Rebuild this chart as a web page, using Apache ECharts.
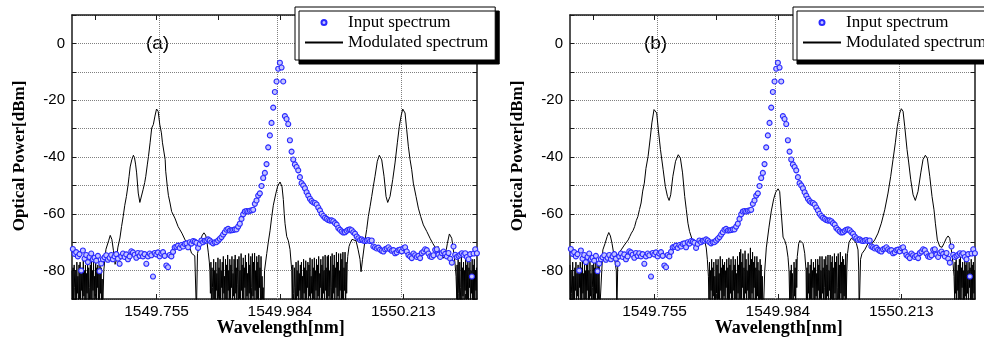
<!DOCTYPE html>
<html>
<head>
<meta charset="utf-8">
<script src="https://cdn.jsdelivr.net/npm/echarts@6.0.0/dist/echarts.min.js"></script>
<style>
html, body { margin: 0; padding: 0; background: #fff; }
#chart { width: 984px; height: 348px; }
</style>
</head>
<body>
<div id="chart"></div>
<script>
// wavelength [nm], power [dBm]
const inputSpectrum = [
  [1549.5996,-72.4],[1549.6027,-74.1],[1549.6058,-73.5],[1549.6089,-75.0],[1549.6120,-74.2],[1549.6151,-80.0],[1549.6182,-72.9],[1549.6213,-75.8],[1549.6244,-74.5],[1549.6275,-77.0],
  [1549.6306,-75.2],[1549.6337,-74.0],[1549.6368,-76.0],[1549.6399,-75.5],[1549.6430,-76.5],[1549.6461,-74.8],[1549.6492,-80.2],[1549.6523,-77.5],[1549.6554,-76.0],[1549.6585,-75.3],
  [1549.6616,-74.6],[1549.6647,-76.2],[1549.6678,-75.5],[1549.6709,-74.5],[1549.6740,-76.0],[1549.6771,-75.0],[1549.6802,-74.2],[1549.6833,-75.8],[1549.6864,-77.6],[1549.6895,-75.0],
  [1549.6926,-74.0],[1549.6957,-75.2],[1549.6988,-74.3],[1549.7019,-76.0],[1549.7050,-75.0],[1549.7081,-73.2],[1549.7112,-73.6],[1549.7143,-74.4],[1549.7174,-75.5],[1549.7205,-73.8],
  [1549.7236,-74.8],[1549.7267,-73.9],[1549.7298,-75.0],[1549.7329,-74.2],[1549.7360,-77.6],[1549.7391,-75.0],[1549.7422,-74.0],[1549.7453,-74.6],[1549.7484,-82.1],[1549.7515,-73.8],
  [1549.7546,-74.3],[1549.7577,-73.6],[1549.7608,-75.0],[1549.7639,-74.0],[1549.7670,-73.5],[1549.7701,-74.8],[1549.7732,-78.2],[1549.7763,-78.8],[1549.7794,-74.5],[1549.7825,-75.0],
  [1549.7856,-73.4],[1549.7887,-71.8],[1549.7918,-71.6],[1549.7949,-71.2],[1549.7980,-72.0],[1549.8011,-71.0],[1549.8042,-71.5],[1549.8073,-70.6],[1549.8104,-70.4],[1549.8135,-71.8],
  [1549.8166,-70.0],[1549.8197,-70.5],[1549.8228,-69.6],[1549.8259,-69.8],[1549.8290,-70.2],[1549.8321,-72.0],[1549.8352,-70.6],[1549.8383,-69.4],[1549.8414,-70.0],[1549.8445,-69.5],
  [1549.8476,-69.4],[1549.8507,-69.0],[1549.8538,-69.4],[1549.8569,-70.0],[1549.8600,-70.4],[1549.8631,-70.0],[1549.8662,-70.0],[1549.8693,-69.4],[1549.8724,-68.8],[1549.8755,-68.2],
  [1549.8786,-67.3],[1549.8817,-66.5],[1549.8848,-65.6],[1549.8879,-65.3],[1549.8910,-65.9],[1549.8941,-65.8],[1549.8972,-65.7],[1549.9003,-65.5],[1549.9034,-65.5],[1549.9065,-64.5],
  [1549.9096,-63.5],[1549.9127,-61.8],[1549.9158,-60.2],[1549.9189,-59.2],[1549.9220,-59.0],[1549.9251,-59.2],[1549.9282,-58.9],[1549.9313,-58.8],[1549.9344,-58.6],[1549.9375,-56.5],
  [1549.9406,-55.3],[1549.9437,-53.6],[1549.9468,-52.8],[1549.9499,-50.2],[1549.9530,-47.4],[1549.9561,-45.6],[1549.9592,-42.5],[1549.9623,-36.6],[1549.9654,-32.4],[1549.9685,-28.0],
  [1549.9716,-22.6],[1549.9747,-17.1],[1549.9778,-13.4],[1549.9809,-8.9],[1549.9840,-6.8],
  [1549.9871,-8.5],[1549.9902,-13.4],[1549.9933,-25.6],[1549.9964,-26.6],[1549.9995,-28.4],[1550.0026,-34.1],[1550.0057,-38.1],[1550.0088,-40.9],[1550.0119,-42.6],[1550.0150,-43.5],
  [1550.0181,-44.7],[1550.0212,-47.1],[1550.0243,-49.2],[1550.0274,-50.0],[1550.0305,-51.0],[1550.0336,-52.4],[1550.0367,-53.6],[1550.0398,-54.7],[1550.0429,-55.5],[1550.0460,-56.0],
  [1550.0491,-56.2],[1550.0522,-56.7],[1550.0553,-57.8],[1550.0584,-58.8],[1550.0615,-60.0],[1550.0646,-60.8],[1550.0677,-61.4],[1550.0708,-61.8],[1550.0739,-62.2],[1550.0770,-62.4],
  [1550.0801,-62.3],[1550.0832,-62.6],[1550.0863,-63.3],[1550.0894,-63.8],[1550.0925,-65.0],[1550.0956,-65.6],[1550.0987,-66.2],[1550.1018,-66.6],[1550.1049,-66.5],[1550.1080,-66.0],
  [1550.1111,-65.6],[1550.1142,-65.5],[1550.1173,-65.8],[1550.1204,-66.5],[1550.1235,-67.0],[1550.1266,-68.0],[1550.1297,-68.6],[1550.1328,-69.2],[1550.1359,-69.0],[1550.1390,-69.4],
  [1550.1421,-69.6],[1550.1452,-69.4],[1550.1483,-69.2],[1550.1514,-69.6],[1550.1545,-69.4],[1550.1576,-71.5],[1550.1607,-71.8],[1550.1638,-72.2],[1550.1669,-71.9],[1550.1700,-72.6],
  [1550.1731,-73.0],[1550.1762,-73.3],[1550.1793,-72.5],[1550.1824,-72.2],[1550.1855,-71.8],[1550.1886,-72.5],[1550.1917,-73.0],[1550.1948,-72.8],[1550.1979,-73.9],[1550.2010,-73.6],
  [1550.2041,-72.8],[1550.2072,-72.6],[1550.2103,-73.2],[1550.2134,-72.1],[1550.2165,-71.8],[1550.2196,-73.3],[1550.2227,-74.5],[1550.2258,-75.0],[1550.2289,-75.6],[1550.2320,-74.0],
  [1550.2351,-74.6],[1550.2382,-75.2],[1550.2413,-74.8],[1550.2444,-75.6],[1550.2475,-73.8],[1550.2506,-73.3],[1550.2537,-72.5],[1550.2568,-72.8],[1550.2599,-74.0],[1550.2630,-75.0],
  [1550.2661,-75.2],[1550.2692,-74.6],[1550.2723,-72.7],[1550.2754,-72.5],[1550.2785,-74.4],[1550.2816,-75.2],[1550.2847,-73.8],[1550.2878,-73.3],[1550.2909,-74.1],[1550.2940,-75.0],
  [1550.2971,-73.8],[1550.3002,-75.8],[1550.3033,-77.2],[1550.3064,-71.5],[1550.3095,-74.4],[1550.3126,-75.2],[1550.3157,-74.8],[1550.3188,-74.4],[1550.3219,-73.9],[1550.3250,-74.4],
  [1550.3281,-73.9],[1550.3312,-75.2],[1550.3343,-76.0],[1550.3374,-74.2],[1550.3405,-82.1],[1550.3436,-74.0],[1550.3467,-72.5],[1550.3498,-73.9]
]

const modulatedA = [
  [1549.598,-80],[1549.599,-91],[1549.600,-79],[1549.601,-95],[1549.602,-78],[1549.603,-86],[1549.604,-92],[1549.605,-80],[1549.606,-94],[1549.607,-77],
  [1549.608,-88],[1549.609,-82],[1549.610,-95],[1549.611,-78],[1549.612,-90],[1549.613,-77],[1549.614,-93],[1549.615,-81],[1549.616,-87],[1549.617,-79],
  [1549.618,-95],[1549.619,-76],[1549.620,-89],[1549.621,-80],[1549.622,-92],[1549.623,-78],[1549.624,-95],[1549.625,-81],[1549.626,-88],[1549.627,-77],
  [1549.628,-94],[1549.629,-79],[1549.630,-86],[1549.631,-93],[1549.632,-78],[1549.633,-90],[1549.634,-76],[1549.635,-95],[1549.636,-80],[1549.637,-87],
  [1549.638,-77],[1549.639,-94],[1549.640,-82],[1549.641,-89],[1549.642,-76],[1549.643,-95],[1549.644,-79],[1549.645,-86],[1549.646,-78],[1549.647,-93],
  [1549.648,-80],[1549.649,-95],[1549.650,-77],[1549.651,-88],[1549.652,-79],[1549.653,-94],[1549.654,-83],[1549.655,-95],[1549.656,-95],
  [1549.657,-80],[1549.661,-72.5],[1549.666,-69.5],[1549.669,-67.6],[1549.672,-69],[1549.675,-73],[1549.678,-77.8],[1549.681,-76],[1549.683,-72],[1549.687,-68.5],
  [1549.690,-64.5],[1549.693,-61],[1549.696,-57],[1549.699,-53.9],[1549.702,-50],[1549.704,-46.8],[1549.706,-43.5],[1549.709,-41],[1549.712,-39.4],[1549.714,-40.2],
  [1549.716,-42.5],[1549.718,-45.6],[1549.721,-52.7],[1549.724,-56],[1549.727,-55.5],[1549.730,-51.5],[1549.733,-49],[1549.735,-46.8],[1549.738,-42.5],[1549.740,-39.8],
  [1549.743,-35],[1549.746,-29.8],[1549.749,-28.6],[1549.752,-25.6],[1549.755,-23.1],[1549.758,-23.9],[1549.761,-28.6],[1549.764,-31.5],[1549.766,-35],[1549.771,-40.9],
  [1549.772,-45],[1549.775,-50.4],[1549.777,-53.5],[1549.780,-56.2],[1549.783,-59.2],[1549.789,-61.5],[1549.795,-64.5],[1549.802,-66.8],[1549.808,-69.2],[1549.814,-70.4],
  [1549.817,-72.1],[1549.820,-73.9],[1549.823,-73.6],[1549.826,-74.8],[1549.829,-95],[1549.830,-95],[1549.831,-74],[1549.834,-71.5],[1549.837,-69],[1549.840,-67.5],
  [1549.843,-66.7],[1549.846,-67.5],[1549.848,-69],[1549.851,-73.5],[1549.853,-77],[1549.854,-80],
  [1549.855,-88],[1549.856,-77],[1549.857,-93],[1549.858,-79],[1549.859,-86],[1549.860,-95],[1549.861,-76],[1549.862,-90],[1549.863,-80],[1549.864,-94],
  [1549.865,-77],[1549.866,-87],[1549.867,-81],[1549.868,-95],[1549.869,-75.5],[1549.870,-89],[1549.871,-79],[1549.872,-92],[1549.873,-76],[1549.874,-95],
  [1549.875,-80],[1549.876,-86],[1549.877,-77],[1549.878,-93],[1549.879,-75],[1549.880,-88],[1549.881,-82],[1549.882,-95],[1549.883,-76],[1549.884,-90],
  [1549.885,-78],[1549.886,-94],[1549.887,-74.5],[1549.888,-87],[1549.889,-80],[1549.890,-95],[1549.891,-76],[1549.892,-91],[1549.893,-78],[1549.894,-86],
  [1549.895,-75],[1549.896,-94],[1549.897,-81],[1549.898,-89],[1549.899,-76],[1549.900,-95],[1549.901,-74.5],[1549.902,-88],[1549.903,-79],[1549.904,-93],
  [1549.905,-76],[1549.906,-85],[1549.907,-95],[1549.908,-75],[1549.909,-90],[1549.910,-80],[1549.911,-94],[1549.912,-74],[1549.913,-87],[1549.914,-78],
  [1549.915,-95],[1549.916,-75.5],[1549.917,-91],[1549.918,-79],[1549.919,-86],[1549.920,-74.5],[1549.921,-95],[1549.922,-77],[1549.923,-89],[1549.924,-81],
  [1549.925,-94],[1549.926,-74],[1549.927,-88],[1549.928,-78],[1549.929,-95],[1549.930,-75],[1549.931,-86],[1549.932,-92],[1549.933,-74],[1549.934,-89],
  [1549.935,-77],[1549.936,-95],[1549.937,-73.8],[1549.938,-87],[1549.939,-80],[1549.940,-94],[1549.941,-75],[1549.942,-90],[1549.943,-77],[1549.944,-95],
  [1549.945,-74.5],[1549.946,-86],[1549.947,-79],[1549.948,-93],[1549.949,-75],[1549.950,-95],[1549.951,-82],[1549.952,-90],[1549.953,-86],[1549.954,-95],
  [1549.9555,-80],[1549.9596,-74],[1549.9625,-70],[1549.9657,-66],[1549.9689,-61],[1549.9718,-57],[1549.9763,-53],[1549.9800,-50.2],[1549.9843,-48.8],[1549.9880,-50.5],
  [1549.9904,-55],[1549.9921,-60],[1549.9936,-63.5],[1549.9967,-68],[1549.9997,-69.5],[1550.0028,-72.5],[1550.0052,-78],
  [1550.006,-80],[1550.007,-93],[1550.008,-78],[1550.009,-88],[1550.010,-95],[1550.011,-79],[1550.012,-86],[1550.013,-92],[1550.014,-77],[1550.015,-95],
  [1550.016,-80],[1550.017,-89],[1550.018,-76.5],[1550.019,-94],[1550.020,-81],[1550.021,-87],[1550.022,-78],[1550.023,-95],[1550.024,-77],[1550.025,-90],
  [1550.026,-82],[1550.027,-94],[1550.028,-76],[1550.029,-88],[1550.030,-79],[1550.031,-95],[1550.032,-76.5],[1550.033,-91],[1550.034,-80],[1550.035,-86],
  [1550.036,-77],[1550.037,-95],[1550.038,-78],[1550.039,-89],[1550.040,-75.5],[1550.041,-94],[1550.042,-82],[1550.043,-88],[1550.044,-76],[1550.045,-95],
  [1550.046,-79],[1550.047,-90],[1550.048,-75.5],[1550.049,-93],[1550.050,-80],[1550.051,-87],[1550.052,-76],[1550.053,-95],[1550.054,-78],[1550.055,-89],
  [1550.056,-75],[1550.057,-94],[1550.058,-81],[1550.059,-86],[1550.060,-76],[1550.061,-95],[1550.062,-78],[1550.063,-91],[1550.064,-75],[1550.065,-88],
  [1550.066,-80],[1550.067,-95],[1550.068,-74.5],[1550.069,-87],[1550.070,-79],[1550.071,-93],[1550.072,-75],[1550.073,-95],[1550.074,-74.5],[1550.075,-89],
  [1550.076,-80],[1550.077,-94],[1550.078,-75],[1550.079,-86],[1550.080,-92],[1550.081,-74],[1550.082,-95],[1550.083,-78],[1550.084,-88],[1550.085,-74.5],
  [1550.086,-93],[1550.087,-79],[1550.088,-86],[1550.089,-73.5],[1550.090,-95],[1550.091,-77],[1550.092,-89],[1550.093,-74],[1550.094,-94],[1550.095,-80],
  [1550.096,-87],[1550.097,-74],[1550.098,-95],[1550.099,-76],[1550.100,-90],[1550.101,-73.5],[1550.102,-94],[1550.103,-79],[1550.104,-87],[1550.105,-73.5],
  [1550.106,-95],[1550.107,-77],[1550.108,-88],[1550.109,-78],[1550.110,-75],
  [1550.1124,-71.5],[1550.1142,-70.5],[1550.1180,-69],[1550.1217,-68.4],[1550.1254,-69.5],[1550.1291,-72.5],[1550.1328,-76],[1550.1347,-80.4],[1550.1375,-76],[1550.1421,-69.2],
  [1550.1452,-65.5],[1550.1482,-61],[1550.1514,-57.5],[1550.1545,-53.9],[1550.1575,-50.3],[1550.1606,-46.8],[1550.1649,-41.5],[1550.1686,-39.4],[1550.1709,-39.8],[1550.1731,-41],
  [1550.1774,-46.8],[1550.1811,-53.9],[1550.1842,-56],[1550.1867,-55.5],[1550.1885,-53.9],[1550.1935,-48],[1550.1978,-42.1],[1550.2021,-35],[1550.2058,-29.2],[1550.2090,-25.6],
  [1550.2121,-23.1],[1550.2145,-23.5],[1550.2164,-24.5],[1550.2195,-30.4],[1550.2225,-36.2],[1550.2257,-40.9],[1550.2288,-44.5],[1550.2318,-49.2],[1550.2368,-53.9],[1550.2411,-58],
  [1550.2455,-61],[1550.2504,-63.9],[1550.2567,-66.2],[1550.2628,-68.6],[1550.2678,-70.4],[1550.2712,-70.8],[1550.2753,-72.7],[1550.2777,-71.5],[1550.2814,-74.5],[1550.2842,-73.8],
  [1550.2875,-75.6],[1550.2907,-74.5],[1550.2931,-72.5],[1550.2950,-70.4],[1550.2987,-67.1],[1550.3009,-67.5],[1550.3031,-68.6],[1550.3061,-72.7],[1550.3092,-77.4],[1550.3111,-82],
  [1550.3125,-90],[1550.313,-78],[1550.314,-93],[1550.315,-76],[1550.316,-88],[1550.317,-95],[1550.318,-77],[1550.319,-86],[1550.320,-92],[1550.321,-74.5],
  [1550.322,-95],[1550.323,-79],[1550.324,-89],[1550.325,-77],[1550.326,-94],[1550.327,-80],[1550.328,-87],[1550.329,-75],[1550.330,-95],[1550.331,-78],
  [1550.332,-90],[1550.333,-76],[1550.334,-93],[1550.335,-79],[1550.336,-86],[1550.337,-77],[1550.338,-95],[1550.339,-80],[1550.340,-88],[1550.341,-76],
  [1550.342,-94],[1550.343,-78],[1550.344,-91],[1550.345,-76],[1550.346,-95],[1550.347,-80],[1550.348,-87],[1550.349,-79],[1550.350,-93]
]

const modulatedB = [
  [1549.598,-78],[1549.599,-93],[1549.600,-80],[1549.601,-88],[1549.602,-95],[1549.603,-77],[1549.604,-90],[1549.605,-82],[1549.606,-95],[1549.607,-79],
  [1549.608,-87],[1549.609,-77],[1549.610,-94],[1549.611,-81],[1549.612,-89],[1549.613,-78],[1549.614,-95],[1549.615,-80],[1549.616,-86],[1549.617,-77],
  [1549.618,-93],[1549.619,-79],[1549.620,-95],[1549.621,-76],[1549.622,-88],[1549.623,-81],[1549.624,-94],[1549.625,-77],[1549.626,-90],[1549.627,-80],
  [1549.628,-95],[1549.629,-78],[1549.630,-87],[1549.631,-76],[1549.632,-93],[1549.633,-80],[1549.634,-95],[1549.635,-77],[1549.636,-89],[1549.637,-81],
  [1549.638,-94],[1549.639,-78],[1549.640,-86],[1549.641,-95],[1549.642,-76],[1549.643,-91],[1549.644,-79],[1549.645,-95],[1549.646,-76],[1549.647,-88],
  [1549.648,-80],[1549.649,-94],[1549.650,-77],[1549.651,-90],[1549.652,-78],[1549.653,-95],[1549.654,-95],[1549.656,-95],
  [1549.657,-80],[1549.659,-72.7],[1549.663,-70.5],[1549.667,-68],[1549.670,-66.6],[1549.673,-67.8],[1549.676,-70.4],[1549.680,-75],[1549.682,-77.4],[1549.684,-80],
  [1549.685,-95],[1549.686,-95],[1549.687,-74.5],[1549.690,-73.5],[1549.693,-72.7],[1549.696,-72],[1549.699,-71],[1549.702,-70.5],[1549.706,-69.2],[1549.709,-68],
  [1549.712,-66.8],[1549.715,-65.9],[1549.718,-64.5],[1549.721,-62.4],[1549.724,-61],[1549.727,-58.5],[1549.730,-56.2],[1549.733,-52],[1549.736,-49.2],[1549.739,-44],
  [1549.743,-39.8],[1549.747,-33.3],[1549.750,-28],[1549.754,-23.3],[1549.756,-22.7],[1549.759,-24.5],[1549.762,-30.4],[1549.766,-37.4],[1549.771,-44.5],[1549.775,-50.4],
  [1549.779,-53.9],[1549.782,-55.3],[1549.785,-53.3],[1549.789,-46.8],[1549.794,-41.5],[1549.799,-39.2],[1549.803,-40.4],[1549.807,-45.6],[1549.811,-53.9],[1549.814,-58.6],
  [1549.817,-63.3],[1549.820,-66.2],[1549.825,-69.2],[1549.830,-70.4],[1549.833,-71],[1549.836,-70.6],[1549.840,-69.6],[1549.844,-68.5],[1549.848,-69.5],[1549.851,-72],
  [1549.853,-76],[1549.855,-82],
  [1549.856,-90],[1549.857,-77],[1549.858,-94],[1549.859,-80],[1549.860,-87],[1549.861,-76],[1549.862,-95],[1549.863,-79],[1549.864,-89],[1549.865,-77],
  [1549.866,-93],[1549.867,-82],[1549.868,-95],[1549.869,-76],[1549.870,-88],[1549.871,-78],[1549.872,-94],[1549.873,-76],[1549.874,-90],[1549.875,-81],
  [1549.876,-95],[1549.877,-75],[1549.878,-87],[1549.879,-79],[1549.880,-93],[1549.881,-76],[1549.882,-95],[1549.883,-78],[1549.884,-89],[1549.885,-77],
  [1549.886,-94],[1549.887,-80],[1549.888,-86],[1549.889,-76],[1549.890,-95],[1549.891,-79],[1549.892,-91],[1549.893,-75.5],[1549.894,-95],[1549.895,-78],
  [1549.896,-88],[1549.897,-76],[1549.898,-93],[1549.899,-80],[1549.900,-95],[1549.901,-75],[1549.902,-87],[1549.903,-78],[1549.904,-94],[1549.905,-76],
  [1549.906,-90],[1549.907,-81],[1549.908,-95],[1549.909,-75],[1549.910,-88],[1549.911,-78],[1549.912,-94],[1549.913,-73.5],[1549.914,-90],[1549.915,-72.5],
  [1549.916,-95],[1549.917,-77],[1549.918,-86],[1549.919,-74],[1549.920,-93],[1549.921,-79],[1549.922,-95],[1549.923,-73],[1549.924,-88],[1549.925,-76],
  [1549.926,-94],[1549.927,-80],[1549.928,-87],[1549.929,-74],[1549.930,-95],[1549.931,-78],[1549.932,-90],[1549.933,-72],[1549.934,-94],[1549.935,-76],
  [1549.936,-88],[1549.937,-73.5],[1549.938,-95],[1549.939,-77],[1549.940,-86],[1549.941,-75],[1549.942,-93],[1549.943,-79],[1549.944,-95],[1549.945,-75],
  [1549.946,-89],[1549.947,-77],[1549.948,-94],[1549.949,-80],[1549.950,-95],[1549.951,-76],[1549.952,-90],[1549.953,-78],[1549.954,-95],[1549.955,-82],
  [1549.956,-93],[1549.957,-95],
  [1549.9596,-80],[1549.9625,-72],[1549.9675,-64.7],[1549.9718,-59],[1549.9763,-54.7],[1549.9800,-52.4],[1549.9843,-51.2],[1549.9874,-52.2],[1549.9904,-60],[1549.9936,-68.2],
  [1549.9967,-69.4],[1549.9997,-71.2],[1550.0028,-75.3],[1550.0047,-80],
  [1550.006,-92],[1550.007,-80],[1550.008,-90],[1550.009,-78],[1550.010,-95],[1550.011,-81],[1550.012,-88],[1550.013,-95],[1550.014,-77],[1550.015,-89],
  [1550.016,-79],[1550.017,-94],[1550.018,-76],[1550.019,-86],[1550.020,-75],
  [1550.0227,-70.4],[1550.0251,-69.4],[1550.0275,-69.2],[1550.0307,-70.5],[1550.0338,-73.9],[1550.0363,-80],
  [1550.037,-93],[1550.038,-79],[1550.039,-95],[1550.040,-77],[1550.041,-88],[1550.042,-81],[1550.043,-94],[1550.044,-78],[1550.045,-90],[1550.046,-76],
  [1550.047,-95],[1550.048,-80],[1550.049,-86],[1550.050,-77],[1550.051,-93],[1550.052,-79],[1550.053,-95],[1550.054,-76],[1550.055,-89],[1550.056,-81],
  [1550.057,-94],[1550.058,-76],[1550.059,-87],[1550.060,-78],[1550.061,-95],[1550.062,-75],[1550.063,-90],[1550.064,-80],[1550.065,-94],[1550.066,-75],
  [1550.067,-88],[1550.068,-79],[1550.069,-95],[1550.070,-76],[1550.071,-86],[1550.072,-92],[1550.073,-75],[1550.074,-95],[1550.075,-78],[1550.076,-89],
  [1550.077,-74.5],[1550.078,-94],[1550.079,-80],[1550.080,-87],[1550.081,-74.5],[1550.082,-95],[1550.083,-77],[1550.084,-90],[1550.085,-75],[1550.086,-93],
  [1550.087,-79],[1550.088,-95],[1550.089,-74],[1550.090,-88],[1550.091,-77],[1550.092,-94],[1550.093,-75],[1550.094,-86],[1550.095,-95],[1550.096,-74],
  [1550.097,-90],[1550.098,-78],[1550.099,-95],[1550.100,-73.5],[1550.101,-88],[1550.102,-77],[1550.103,-94],[1550.104,-75],[1550.105,-95],[1550.106,-76],
  [1550.107,-89],[1550.108,-78],[1550.109,-93],[1550.110,-74],[1550.111,-90],[1550.112,-80],
  [1550.1133,-74],[1550.1161,-70],[1550.1204,-68.6],[1550.1248,-69.2],[1550.1297,-70.4],[1550.1328,-72.7],[1550.1341,-80],[1550.1350,-95],[1550.1361,-95],[1550.1375,-76],
  [1550.1402,-74],[1550.1452,-72.7],[1550.1514,-70.4],[1550.1575,-70.8],[1550.1638,-69.2],[1550.1700,-66.8],[1550.1761,-63.3],[1550.1824,-58.6],[1550.1885,-52.7],[1550.1935,-46.8],
  [1550.1978,-40.9],[1550.2021,-35],[1550.2058,-29.2],[1550.2103,-24.5],[1550.2132,-23],[1550.2164,-23.9],[1550.2195,-29.2],[1550.2238,-37.4],[1550.2270,-42.1],[1550.2307,-48],
  [1550.2350,-53.3],[1550.2392,-55.3],[1550.2442,-52.1],[1550.2493,-45.6],[1550.2535,-40.9],[1550.2578,-39.4],[1550.2615,-40.4],[1550.2660,-46.8],[1550.2702,-53.9],[1550.2739,-58.6],
  [1550.2764,-63.3],[1550.2801,-69.2],[1550.2845,-71.5],[1550.2888,-71.8],[1550.2925,-70.4],[1550.2968,-68.6],[1550.3000,-67.8],[1550.3031,-68.6],[1550.3061,-72.7],[1550.3092,-77.4],
  [1550.3111,-82],
  [1550.3125,-92],[1550.313,-77],[1550.314,-88],[1550.315,-76],[1550.316,-95],[1550.317,-80],[1550.318,-87],[1550.319,-78],[1550.320,-94],[1550.321,-76],
  [1550.322,-90],[1550.323,-74.5],[1550.324,-95],[1550.325,-79],[1550.326,-86],[1550.327,-77],[1550.328,-93],[1550.329,-80],[1550.330,-95],[1550.331,-76],
  [1550.332,-89],[1550.333,-78],[1550.334,-95],[1550.335,-75],[1550.336,-88],[1550.337,-80],[1550.338,-94],[1550.339,-77],[1550.340,-86],[1550.341,-79],
  [1550.342,-95],[1550.343,-76],[1550.344,-90],[1550.345,-78],[1550.346,-94],[1550.347,-77],[1550.348,-88],[1550.349,-80],[1550.350,-93]
]

const xLabelValues = [1549.755, 1549.984, 1550.213]
const xTickValues = [1549.6405, 1549.755, 1549.8695, 1549.984, 1550.0985, 1550.213, 1550.3275]
const yLabelValues = [-80, -60, -40, -20, 0]

const frame = { color: '#1a1a1a', width: 1.5 }
const gridLine = { type: 'dotted', color: '#808080', width: 1 }

const panels = [
  { left: 72, tag: '(a)', modulated: modulatedA, legendLeft: 295 },
  { left: 570, tag: '(b)', modulated: modulatedB, legendLeft: 793 }
]

let grids = [], xAxes = [], yAxes = [], series = [], legends = [], graphics = []

panels.forEach(function (p, i) {
  grids.push({ left: p.left, top: 15, width: 405, height: 284, outerBoundsMode: 'none' })

  // bottom and top x axes
  xAxes.push({
    type: 'value', gridIndex: i, min: 1549.598, max: 1550.350, position: 'bottom',
    axisLine: { show: true, onZero: false, lineStyle: frame },
    axisTick: { show: true, inside: true, length: 5, customValues: xTickValues, lineStyle: { color: '#1a1a1a' } },
    axisLabel: {
      customValues: xLabelValues, margin: 5, color: '#000', fontSize: 15.5, fontFamily: 'Liberation Sans',
      formatter: function (v) { return v.toFixed(3) }
    },
    splitLine: { show: false }
  })
  xAxes.push({
    type: 'value', gridIndex: i, min: 1549.598, max: 1550.350, position: 'top',
    axisLine: { show: true, onZero: false, lineStyle: frame },
    axisTick: { show: true, inside: true, length: 5, customValues: xTickValues, lineStyle: { color: '#1a1a1a' } },
    axisLabel: { show: false },
    splitLine: { show: false }
  })

  // left and right y axes
  yAxes.push({
    type: 'value', gridIndex: i, min: -90, max: 10, interval: 10, position: 'left',
    axisLine: { show: true, onZero: false, lineStyle: frame },
    axisTick: { show: true, inside: true, length: 4, lineStyle: { color: '#1a1a1a' } },
    axisLabel: {
      margin: 7, color: '#000', fontSize: 15, fontFamily: 'Liberation Sans',
      formatter: function (v) { return yLabelValues.indexOf(v) >= 0 ? String(v) : '' }
    },
    splitLine: { show: true, lineStyle: gridLine }
  })
  yAxes.push({
    type: 'value', gridIndex: i, min: -90, max: 10, interval: 10, position: 'right',
    axisLine: { show: true, onZero: false, lineStyle: frame },
    axisTick: { show: true, inside: true, length: 4, lineStyle: { color: '#1a1a1a' } },
    axisLabel: { show: false },
    splitLine: { show: false }
  })

  series.push({
    name: 'Modulated spectrum', type: 'line',
    xAxisIndex: 2 * i, yAxisIndex: 2 * i,
    data: p.modulated, symbol: 'none', showSymbol: false, z: 2,
    lineStyle: { color: '#000', width: 1 },
    itemStyle: { color: '#000' },
    markLine: {
      silent: true, symbol: 'none', z: 1, animation: false,
      label: { show: false },
      lineStyle: gridLine,
      emphasis: { disabled: true },
      data: xLabelValues.map(function (v) { return { xAxis: v } })
    }
  })
  series.push({
    name: 'Input spectrum', type: 'scatter',
    xAxisIndex: 2 * i, yAxisIndex: 2 * i,
    data: inputSpectrum, symbol: 'circle', symbolSize: 5, z: 3,
    itemStyle: { color: '#c4c4ff', borderColor: '#2a2aff', borderWidth: 1.1, opacity: 1 }
  })

  legends.push({
    left: p.legendLeft, top: 7, orient: 'vertical',
    data: ['Input spectrum', { name: 'Modulated spectrum', itemStyle: { opacity: 0 } }],
    selectedMode: false,
    itemWidth: 38, itemHeight: 5, itemGap: 3,
    padding: [7, 7, 9, 9],
    backgroundColor: '#fff', borderColor: '#000', borderWidth: 1, borderRadius: 0,
    shadowColor: '#000', shadowBlur: 0, shadowOffsetX: 4, shadowOffsetY: 4,
    textStyle: { fontFamily: 'Liberation Serif', fontSize: 17, color: '#000' }
  })

  graphics.push({
    type: 'text', x: p.left + 85.5, y: 44,
    style: { text: p.tag, fill: '#000', font: '19px "Liberation Sans"', align: 'center', verticalAlign: 'middle' }
  })
  graphics.push({
    type: 'text', x: p.left - 52.5, y: 156, rotation: Math.PI / 2,
    style: { text: 'Optical Power[dBm]', fill: '#000', font: 'bold 17px "Liberation Serif"', align: 'center', verticalAlign: 'middle' }
  })
  graphics.push({
    type: 'text', x: p.left + 208.7, y: 328,
    style: { text: 'Wavelength[nm]', fill: '#000', font: 'bold 18px "Liberation Serif"', align: 'center', verticalAlign: 'middle' }
  })
})

let chart = echarts.init(document.getElementById('chart'))
chart.setOption({
  animation: false,
  backgroundColor: '#fff',
  grid: grids,
  xAxis: xAxes,
  yAxis: yAxes,
  legend: legends,
  series: series,
  graphic: { elements: graphics }
})
</script>
</body>
</html>
